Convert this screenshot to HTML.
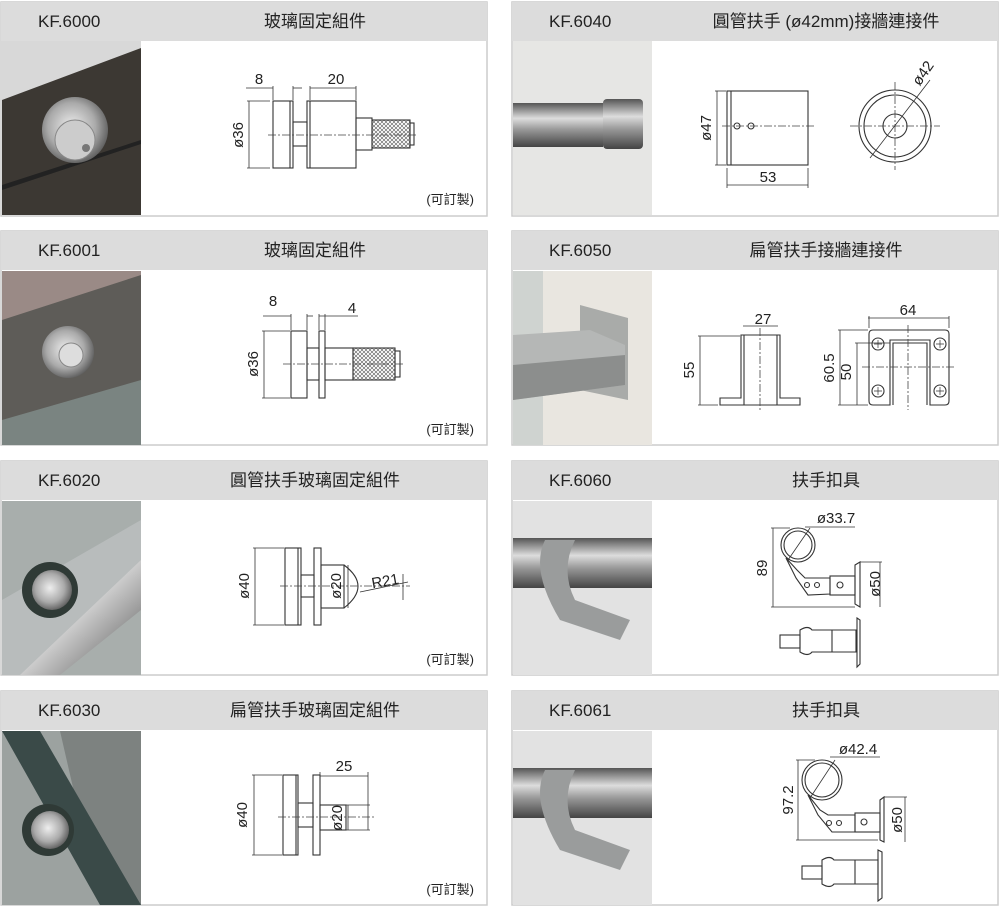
<!DOCTYPE html>
<html><head><meta charset="utf-8"><style>
html,body{margin:0;padding:0;background:#fff;}
svg{display:block}
text{font-family:"Liberation Sans","Noto Sans CJK TC",sans-serif;fill:#222}
.h{font-size:17px}
.d{font-size:15px}
.l{fill:none;stroke:#333;stroke-width:1.1}
.c{fill:none;stroke:#444;stroke-width:.8;stroke-dasharray:8 2 2 2}
.dm{fill:none;stroke:#333;stroke-width:.8}
</style></head><body>
<svg width="1000" height="906" viewBox="0 0 1000 906" xmlns="http://www.w3.org/2000/svg">
<defs>
<pattern id="kn" width="4" height="4" patternUnits="userSpaceOnUse"><path d="M0 0L4 4M4 0L0 4" stroke="#555" stroke-width=".6"/></pattern>
<linearGradient id="st" x1="0" y1="0" x2="0" y2="1"><stop offset="0" stop-color="#555"/><stop offset=".35" stop-color="#ddd"/><stop offset=".6" stop-color="#999"/><stop offset="1" stop-color="#444"/></linearGradient>
<radialGradient id="kb" cx=".45" cy=".45" r=".6"><stop offset="0" stop-color="#eee"/><stop offset=".6" stop-color="#aaa"/><stop offset="1" stop-color="#555"/></radialGradient>
<linearGradient id="tb" x1="0" y1="0" x2="1" y2="1"><stop offset="0" stop-color="#666"/><stop offset=".5" stop-color="#ccc"/><stop offset="1" stop-color="#555"/></linearGradient>
</defs>
<g fill="#fff" stroke="#ccc" stroke-width="1.5">
<rect x="1" y="2" width="486" height="214"/><rect x="512" y="2" width="486" height="214"/>
<rect x="1" y="231" width="486" height="214"/><rect x="512" y="231" width="486" height="214"/>
<rect x="1" y="461" width="486" height="214"/><rect x="512" y="461" width="486" height="214"/>
<rect x="1" y="691" width="486" height="214"/><rect x="512" y="691" width="486" height="214"/>
</g>
<g fill="#dcdcdc">
<rect x="1" y="2" width="486" height="39"/><rect x="512" y="2" width="486" height="39"/>
<rect x="1" y="231" width="486" height="39"/><rect x="512" y="231" width="486" height="39"/>
<rect x="1" y="461" width="486" height="39"/><rect x="512" y="461" width="486" height="39"/>
<rect x="1" y="691" width="486" height="39"/><rect x="512" y="691" width="486" height="39"/>
</g>
<g class="h">
<text x="38" y="27">KF.6000</text><text x="315" y="27" text-anchor="middle">玻璃固定組件</text>
<text x="549" y="27">KF.6040</text><text x="826" y="27" text-anchor="middle">圓管扶手 (ø42mm)接牆連接件</text>
<text x="38" y="256">KF.6001</text><text x="315" y="256" text-anchor="middle">玻璃固定組件</text>
<text x="549" y="256">KF.6050</text><text x="826" y="256" text-anchor="middle">扁管扶手接牆連接件</text>
<text x="38" y="486">KF.6020</text><text x="315" y="486" text-anchor="middle">圓管扶手玻璃固定組件</text>
<text x="549" y="486">KF.6060</text><text x="826" y="486" text-anchor="middle">扶手扣具</text>
<text x="38" y="716">KF.6030</text><text x="315" y="716" text-anchor="middle">扁管扶手玻璃固定組件</text>
<text x="549" y="716">KF.6061</text><text x="826" y="716" text-anchor="middle">扶手扣具</text>
</g>
<rect x="2" y="41" width="139" height="174" fill="#3c3833"/>
<polygon points="2,41 141,41 141,48 2,100" fill="#d8d8d8"/>
<polygon points="2,185 141,140 141,144 2,190" fill="#222"/>
<circle cx="75" cy="130" r="33" fill="url(#kb)"/><circle cx="75" cy="140" r="20" fill="#ccc" stroke="#888"/><circle cx="86" cy="148" r="4" fill="#777"/>
<rect x="2" y="271" width="139" height="174" fill="#5e5c58"/>
<polygon points="2,271 141,271 141,275 2,320" fill="#9a8a86"/>
<polygon points="2,420 141,380 141,445 2,445" fill="#7a8481"/>
<circle cx="68" cy="352" r="26" fill="url(#kb)"/><circle cx="71" cy="355" r="12" fill="#ddd" stroke="#888"/>
<rect x="2" y="501" width="139" height="174" fill="#a8aeac"/>
<polygon points="2,600 141,520 141,600 60,675 2,675" fill="#b8bcbc"/>
<polygon points="20,675 141,560 141,610 60,675" fill="url(#tb)"/>
<circle cx="50" cy="590" r="28" fill="#2f3a36"/><circle cx="52" cy="590" r="20" fill="url(#kb)"/>
<rect x="2" y="731" width="139" height="174" fill="#9ca2a0"/>
<polygon points="60,731 141,731 141,905 100,905" fill="#7d8280"/>
<polygon points="2,731 40,731 141,905 100,905" fill="#3a4a48"/>
<circle cx="48" cy="830" r="26" fill="#2f3a36"/><circle cx="50" cy="830" r="19" fill="url(#kb)"/>
<rect x="513" y="41" width="139" height="174" fill="#e6e6e4"/>
<rect x="513" y="103" width="90" height="44" fill="url(#st)"/><rect x="603" y="99" width="40" height="50" rx="4" fill="url(#st)"/>
<rect x="513" y="271" width="139" height="174" fill="#e9e6e0"/>
<rect x="513" y="271" width="30" height="174" fill="#cfd3d0"/>
<polygon points="580,305 628,318 628,400 580,390" fill="#a9aba9"/>
<polygon points="513,335 590,330 625,345 625,385 513,400" fill="#b5b7b6"/>
<polygon points="513,365 625,355 625,385 513,400" fill="#8c8e8d"/>
<rect x="513" y="501" width="139" height="174" fill="#e2e2e2"/>
<rect x="513" y="538" width="139" height="50" fill="url(#st)"/>
<path d="M545 540 Q530 570 560 620 L620 640 L630 620 L575 600 Q560 570 575 540Z" fill="#9a9c9c"/>
<rect x="513" y="731" width="139" height="174" fill="#e2e2e2"/>
<rect x="513" y="768" width="139" height="50" fill="url(#st)"/>
<path d="M545 770 Q530 800 560 850 L620 870 L630 850 L575 830 Q560 800 575 770Z" fill="#9a9c9c"/>
<!-- KF.6000 -->
<g class="l"><rect x="273" y="101" width="20" height="67"/><line x1="290" y1="101" x2="290" y2="168"/><rect x="293" y="122" width="14" height="24"/><rect x="307" y="101" width="49" height="67"/><line x1="310" y1="101" x2="310" y2="168"/><rect x="356" y="118" width="16" height="32"/><rect x="372" y="120" width="38" height="28" fill="url(#kn)"/><rect x="410" y="123" width="4" height="22"/></g>
<line class="c" x1="268" y1="135" x2="418" y2="135"/>
<g class="dm"><line x1="246" y1="88" x2="273" y2="88"/><line x1="293" y1="88" x2="302" y2="88"/><line x1="273" y1="86" x2="273" y2="100"/><line x1="293" y1="86" x2="293" y2="100"/><line x1="310" y1="88" x2="356" y2="88"/><line x1="310" y1="86" x2="310" y2="100"/><line x1="356" y1="86" x2="356" y2="100"/><line x1="249" y1="101" x2="249" y2="168"/><line x1="247" y1="101" x2="270" y2="101"/><line x1="247" y1="168" x2="270" y2="168"/></g>
<text class="d" x="259" y="84" text-anchor="middle">8</text><text class="d" x="336" y="84" text-anchor="middle">20</text>
<text class="d" transform="translate(243,135) rotate(-90)" text-anchor="middle">ø36</text>
<text x="474" y="204" font-size="13" text-anchor="end">(可訂製)</text>
<!-- KF.6001 -->
<g class="l"><rect x="291" y="331" width="16" height="67"/><rect x="307" y="348" width="12" height="32"/><rect x="319" y="331" width="6" height="67"/><rect x="325" y="348" width="28" height="32"/><rect x="353" y="348" width="42" height="32" fill="url(#kn)"/><rect x="395" y="351" width="5" height="26"/></g>
<line class="c" x1="283" y1="364" x2="405" y2="364"/>
<g class="dm"><line x1="263" y1="316" x2="291" y2="316"/><line x1="307" y1="316" x2="313" y2="316"/><line x1="291" y1="314" x2="291" y2="330"/><line x1="307" y1="314" x2="307" y2="330"/><line x1="319" y1="316" x2="358" y2="316"/><line x1="319" y1="314" x2="319" y2="330"/><line x1="325" y1="314" x2="325" y2="330"/><line x1="264" y1="331" x2="264" y2="398"/><line x1="262" y1="331" x2="290" y2="331"/><line x1="262" y1="398" x2="290" y2="398"/></g>
<text class="d" x="273" y="306" text-anchor="middle">8</text><text class="d" x="352" y="313" text-anchor="middle">4</text>
<text class="d" transform="translate(258,364) rotate(-90)" text-anchor="middle">ø36</text>
<text x="474" y="434" font-size="13" text-anchor="end">(可訂製)</text>
<!-- KF.6020 -->
<g class="l"><rect x="285" y="548" width="16" height="77"/><line x1="298" y1="548" x2="298" y2="625"/><rect x="301" y="575" width="13" height="22"/><rect x="314" y="548" width="7" height="77"/><rect x="321" y="565" width="23" height="43"/><path d="M344 565 Q372 586 344 608"/></g>
<line class="c" x1="280" y1="586" x2="410" y2="586"/>
<g class="dm"><line x1="255" y1="548" x2="255" y2="625"/><line x1="253" y1="548" x2="284" y2="548"/><line x1="253" y1="625" x2="284" y2="625"/><line x1="348" y1="565" x2="348" y2="608"/><line x1="360" y1="592" x2="408" y2="582"/><line x1="403" y1="574" x2="403" y2="600"/></g>
<text class="d" transform="translate(249,586) rotate(-90)" text-anchor="middle">ø40</text>
<text class="d" transform="translate(341,586) rotate(-90)" text-anchor="middle">ø20</text>
<text class="d" x="386" y="586" text-anchor="middle" transform="rotate(-10,386,586)">R21</text>
<text x="474" y="664" font-size="13" text-anchor="end">(可訂製)</text>
<!-- KF.6030 -->
<g class="l"><rect x="283" y="775" width="15" height="80"/><line x1="296" y1="775" x2="296" y2="855"/><rect x="298" y="803" width="15" height="24"/><rect x="313" y="775" width="7" height="80"/><rect x="320" y="805" width="26" height="25"/></g>
<line class="c" x1="278" y1="817" x2="375" y2="817"/>
<g class="dm"><line x1="254" y1="775" x2="254" y2="855"/><line x1="252" y1="775" x2="282" y2="775"/><line x1="252" y1="855" x2="282" y2="855"/><line x1="320" y1="776" x2="368" y2="776"/><line x1="320" y1="772" x2="320" y2="800"/><line x1="368" y1="772" x2="368" y2="830"/><line x1="348" y1="805" x2="348" y2="830"/><line x1="346" y1="805" x2="370" y2="805"/><line x1="346" y1="830" x2="370" y2="830"/></g>
<text class="d" x="344" y="771" text-anchor="middle">25</text>
<text class="d" transform="translate(247,815) rotate(-90)" text-anchor="middle">ø40</text>
<text class="d" transform="translate(342,818) rotate(-90)" text-anchor="middle">ø20</text>
<text x="474" y="894" font-size="13" text-anchor="end">(可訂製)</text>
<!-- KF.6040 -->
<g class="l"><rect x="727" y="91" width="81" height="74"/><line x1="731" y1="91" x2="731" y2="165"/><circle cx="737" cy="126" r="3"/><circle cx="751" cy="126" r="3"/><circle cx="895" cy="126" r="36"/><circle cx="895" cy="126" r="31"/><circle cx="895" cy="126" r="12"/></g>
<line class="c" x1="722" y1="126" x2="815" y2="126"/><line class="c" x1="850" y1="126" x2="940" y2="126"/><line class="c" x1="895" y1="82" x2="895" y2="170"/>
<g class="dm"><line x1="717" y1="91" x2="717" y2="165"/><line x1="715" y1="91" x2="726" y2="91"/><line x1="715" y1="165" x2="726" y2="165"/><line x1="727" y1="168" x2="727" y2="188"/><line x1="808" y1="168" x2="808" y2="188"/><line x1="727" y1="185" x2="808" y2="185"/><line x1="870" y1="158" x2="930" y2="80"/></g>
<text class="d" transform="translate(711,128) rotate(-90)" text-anchor="middle">ø47</text>
<text class="d" x="768" y="182" text-anchor="middle">53</text>
<text class="d" transform="translate(927,76) rotate(-55)" text-anchor="middle">ø42</text>
<!-- KF.6050 -->
<g class="l"><path d="M741 335 L741 398 L720 398 L720 405 L800 405 L800 398 L780 398 L780 335 Z"/><line x1="744" y1="335" x2="744" y2="405"/><line x1="777" y1="335" x2="777" y2="405"/>
<path d="M873 330 L945 330 Q949 330 949 334 L949 401 Q949 405 945 405 L930 405 L930 340 L890 340 L890 405 L873 405 Q869 405 869 401 L869 334 Q869 330 873 330Z"/><path d="M893 405 L893 343 L927 343 L927 405"/>
<circle cx="878" cy="344" r="6"/><circle cx="940" cy="344" r="6"/><circle cx="878" cy="391" r="6"/><circle cx="940" cy="391" r="6"/></g>
<g stroke="#333" stroke-width=".7"><path d="M874 344h8M878 340v8M936 344h8M940 340v8M874 391h8M878 387v8M936 391h8M940 387v8"/></g>
<line class="c" x1="760" y1="328" x2="760" y2="412"/><line class="c" x1="908" y1="325" x2="908" y2="410"/><line class="c" x1="862" y1="367" x2="955" y2="367"/>
<g class="dm"><line x1="700" y1="336" x2="700" y2="405"/><line x1="698" y1="336" x2="740" y2="336"/><line x1="698" y1="405" x2="718" y2="405"/><line x1="743" y1="326" x2="778" y2="326"/><line x1="868" y1="318" x2="949" y2="318"/><line x1="869" y1="316" x2="869" y2="328"/><line x1="949" y1="316" x2="949" y2="328"/><line x1="840" y1="330" x2="840" y2="405"/><line x1="838" y1="330" x2="868" y2="330"/><line x1="838" y1="405" x2="868" y2="405"/><line x1="857" y1="343" x2="857" y2="405"/><line x1="855" y1="343" x2="890" y2="343"/></g>
<text class="d" x="763" y="324" text-anchor="middle">27</text><text class="d" x="908" y="315" text-anchor="middle">64</text>
<text class="d" transform="translate(694,370) rotate(-90)" text-anchor="middle">55</text>
<text class="d" transform="translate(834,368) rotate(-90)" text-anchor="middle">60.5</text>
<text class="d" transform="translate(851,372) rotate(-90)" text-anchor="middle">50</text>
<!-- KF.6060 -->
<g class="l"><circle cx="798" cy="545" r="17"/><circle cx="798" cy="545" r="14"/><path d="M786 558 L797 570 L805 578 L830 578 L830 594 L808 595 L796 578 Z"/><rect x="830" y="576" width="25" height="19"/><path d="M855 565 L860 562 L860 607 L855 604 Z"/>
<circle cx="807" cy="585" r="2.5"/><circle cx="817" cy="585" r="2.5"/><circle cx="840" cy="585" r="3"/>
<rect x="780" y="635" width="20" height="13"/><path d="M800 630 Q808 625 812 630 L832 630 L832 652 L812 652 Q808 657 800 652 Z"/><path d="M832 630 L856 630 L856 652 L832 652"/><path d="M857 618 L860 620 L860 664 L857 667 Z"/></g>
<g class="dm"><line x1="773" y1="528" x2="773" y2="607"/><line x1="771" y1="528" x2="790" y2="528"/><line x1="771" y1="607" x2="855" y2="607"/><line x1="805" y1="527" x2="855" y2="527"/><line x1="788" y1="560" x2="810" y2="528"/><line x1="880" y1="562" x2="880" y2="607"/><line x1="860" y1="562" x2="882" y2="562"/></g>
<text class="d" x="836" y="523" text-anchor="middle">ø33.7</text>
<text class="d" transform="translate(767,568) rotate(-90)" text-anchor="middle">89</text>
<text class="d" transform="translate(880,584) rotate(-90)" text-anchor="middle">ø50</text>
<!-- KF.6061 -->
<g class="l"><circle cx="822" cy="780" r="20"/><circle cx="822" cy="780" r="17"/><path d="M808 795 L820 810 L828 815 L855 815 L855 832 L832 832 L818 815 Z"/><rect x="855" y="813" width="25" height="19"/><path d="M880 800 L884 797 L884 842 L880 840 Z"/>
<circle cx="829" cy="823" r="2.5"/><circle cx="839" cy="823" r="2.5"/><circle cx="864" cy="822" r="3"/>
<rect x="802" y="866" width="20" height="13"/><path d="M822 860 Q830 855 834 860 L855 860 L855 884 L834 884 Q830 889 822 884 Z"/><path d="M855 860 L878 860 L878 884 L855 884"/><path d="M878 850 L882 852 L882 898 L878 901 Z"/></g>
<g class="dm"><line x1="798" y1="760" x2="798" y2="840"/><line x1="796" y1="760" x2="815" y2="760"/><line x1="796" y1="840" x2="878" y2="840"/><line x1="830" y1="757" x2="880" y2="757"/><line x1="810" y1="798" x2="835" y2="760"/><line x1="905" y1="797" x2="905" y2="842"/><line x1="884" y1="797" x2="907" y2="797"/></g>
<text class="d" x="858" y="754" text-anchor="middle">ø42.4</text>
<text class="d" transform="translate(793,800) rotate(-90)" text-anchor="middle">97.2</text>
<text class="d" transform="translate(902,820) rotate(-90)" text-anchor="middle">ø50</text>
</svg>
</body></html>
